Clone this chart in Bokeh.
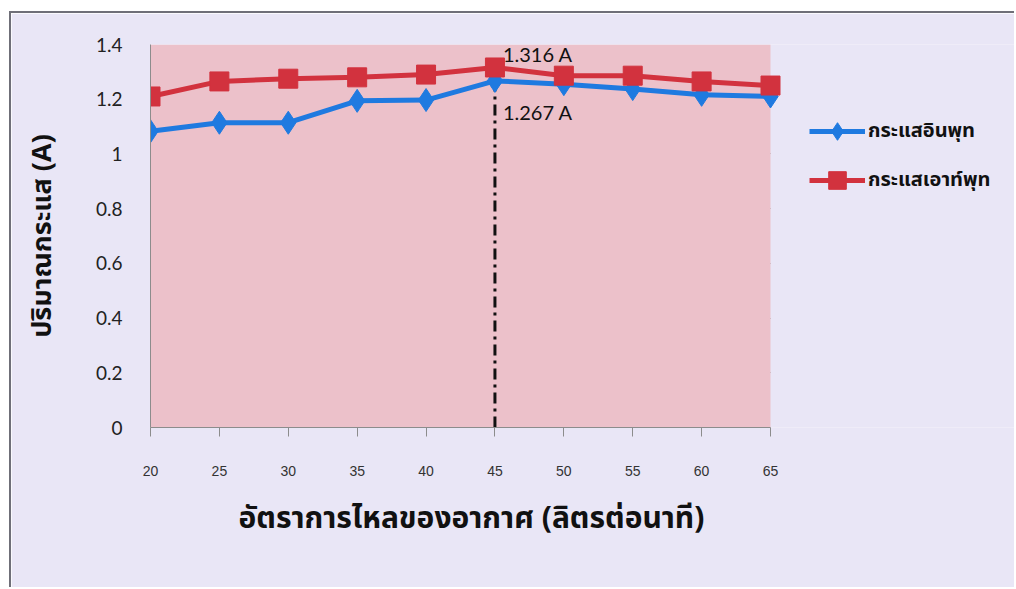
from bokeh.plotting import figure
from bokeh.models import (Range1d, FixedTicker, Legend, LegendItem, ColumnDataSource,
                          BoxAnnotation, Title)
from bokeh.core.properties import value
from bokeh.embed import file_html
from bokeh.resources import INLINE

# ---- data ----
flow_rate = [20, 25, 30, 35, 40, 45, 50, 55, 60, 65]
current_in = [1.083, 1.114, 1.114, 1.194, 1.197, 1.267, 1.255, 1.237, 1.216, 1.210]
current_out = [1.210, 1.265, 1.275, 1.280, 1.290, 1.316, 1.286, 1.286, 1.265, 1.250]
y_ticks = [0, 0.2, 0.4, 0.6, 0.8, 1.0, 1.2, 1.4]
y_tick_labels = ["0", "0.2", "0.4", "0.6", "0.8", "1", "1.2", "1.4"]
series_names = ["กระแสอินพุท", "กระแสเอาท์พุท"]
peak_x = [45]
peak_in = [1.267]
peak_out = [1.316]
peak_in_label = ["1.267 A"]
peak_out_label = ["1.316 A"]
x_title = "อัตราการไหลของอากาศ (ลิตรต่อนาที)"
y_title = "ปริมาณกระแส (A)"

BLUE = "#1f7ae0"
RED = "#d2323e"
OUTER = "#e9e6f6"
INNER = "#ecc1ca"
GRID = "#8c8c8c"
THAI = "Noto Sans Thai, Noto Sans, sans-serif"

# layout: the data area (20..65) spans 620 px; the frame is extended to the right
ML, MT = 9, 11
W, H = 1014 - ML, 587 - MT
LEFT, TOP, BOTTOM, RIGHT = 148 - ML, 42 - MT, 162, 0
DATA_PX = 620
x0, x1 = flow_rate[0], flow_rate[-1]
x_end = x0 + (x1 - x0) * (W - LEFT - RIGHT) / DATA_PX

p = figure(width=W, height=H, output_backend="svg", toolbar_location=None,
           x_range=Range1d(x0, x_end), y_range=Range1d(0, 1.4),
           min_border_left=LEFT, min_border_top=TOP, min_border_right=RIGHT,
           min_border_bottom=BOTTOM)

p.background_fill_color = OUTER
p.border_fill_color = OUTER
p.outline_line_color = None
p.styles = {"border-left": "2px solid #6f6f78", "border-top": "2px solid #6f6f78",
            "box-sizing": "border-box", "margin-left": f"{ML}px", "margin-top": f"{MT}px"}

# pink plot area
p.add_layout(BoxAnnotation(left=x0, right=x1, fill_color=INNER, fill_alpha=1,
                           line_color=None, level="underlay"))

# grid
p.xgrid.grid_line_color = None
p.ygrid.grid_line_color = GRID
p.ygrid.grid_line_width = 1
p.ygrid.ticker = FixedTicker(ticks=y_ticks)
p.ygrid.cross_bounds = (x0, x1)

# y axis
p.yaxis.ticker = FixedTicker(ticks=y_ticks)
p.yaxis.major_label_overrides = {t: l for t, l in zip(y_ticks, y_tick_labels)}
p.yaxis.major_tick_line_color = None
p.yaxis.minor_tick_line_color = None
p.yaxis.major_tick_out = 0
p.yaxis.major_label_standoff = 28
p.yaxis.axis_line_color = GRID
p.yaxis.major_label_text_font = "Lato"
p.yaxis.major_label_text_font_size = "19px"
p.yaxis.major_label_text_color = "#222222"
p.yaxis.axis_label = y_title
p.yaxis.axis_label_text_font = THAI
p.yaxis.axis_label_text_font_style = "bold"
p.yaxis.axis_label_text_font_size = "27px"
p.yaxis.axis_label_text_color = "#111111"
p.yaxis.axis_label_standoff = 30

# x axis
p.xaxis.ticker = FixedTicker(ticks=flow_rate)
p.xaxis.bounds = (x0, x1)
p.xaxis.minor_tick_line_color = None
p.xaxis.major_tick_in = 0
p.xaxis.major_tick_out = 9
p.xaxis.major_tick_line_color = GRID
p.xaxis.axis_line_color = GRID
p.xaxis.major_label_standoff = 29
p.xaxis.major_label_text_font = "Liberation Sans"
p.xaxis.major_label_text_font_size = "14px"
p.xaxis.major_label_text_color = "#333333"

p.add_layout(Title(text=x_title, align="left", offset=88, standoff=30,
                   text_font=THAI, text_font_style="bold", text_font_size="30px",
                   text_color="#111111"), "below")

# vertical dash-dot marker line at peak
src_peak = ColumnDataSource(dict(x=peak_x, y0=[0], y1=peak_out, yi=peak_in,
                                 lo=peak_out_label, li=peak_in_label))
p.segment(x0="x", y0="y0", x1="x", y1="y1", source=src_peak,
          line_color="#111111", line_width=3, line_dash="11 5 3 5")

# series
src = ColumnDataSource(dict(x=flow_rate, a=current_in, b=current_out))
l1 = p.line("x", "a", source=src, line_color=BLUE, line_width=5)
s1 = p.scatter("x", "a", source=src, marker="diamond", size=23, fill_color=BLUE, line_color=BLUE)
l2 = p.line("x", "b", source=src, line_color=RED, line_width=5)
s2 = p.scatter("x", "b", source=src, marker="square", size=19, fill_color=RED, line_color=RED)

# peak labels
p.text(x="x", y="y1", text="lo", source=src_peak, x_offset=8, y_offset=-13,
       text_baseline="middle", text_align="left", text_font=value("Lato"),
       text_font_size="20px", text_color="#111111")
p.text(x="x", y="yi", text="li", source=src_peak, x_offset=8, y_offset=31,
       text_baseline="middle", text_align="left", text_font=value("Lato"),
       text_font_size="20px", text_color="#111111")

legend = Legend(items=[LegendItem(label=series_names[0], renderers=[l1, s1]),
                       LegendItem(label=series_names[1], renderers=[l2, s2])],
                location=(659, 225), orientation="vertical")
legend.background_fill_alpha = 0
legend.border_line_color = None
legend.padding = 0
legend.margin = 0
legend.spacing = 5
legend.glyph_width = 56
legend.glyph_height = 44
legend.label_height = 44
legend.label_standoff = 3
legend.label_text_font = THAI
legend.label_text_font_style = "bold"
legend.label_text_font_size = "20px"
legend.label_text_color = "#111111"
p.add_layout(legend, "center")

open("out.html", "w").write(file_html(p, INLINE))
